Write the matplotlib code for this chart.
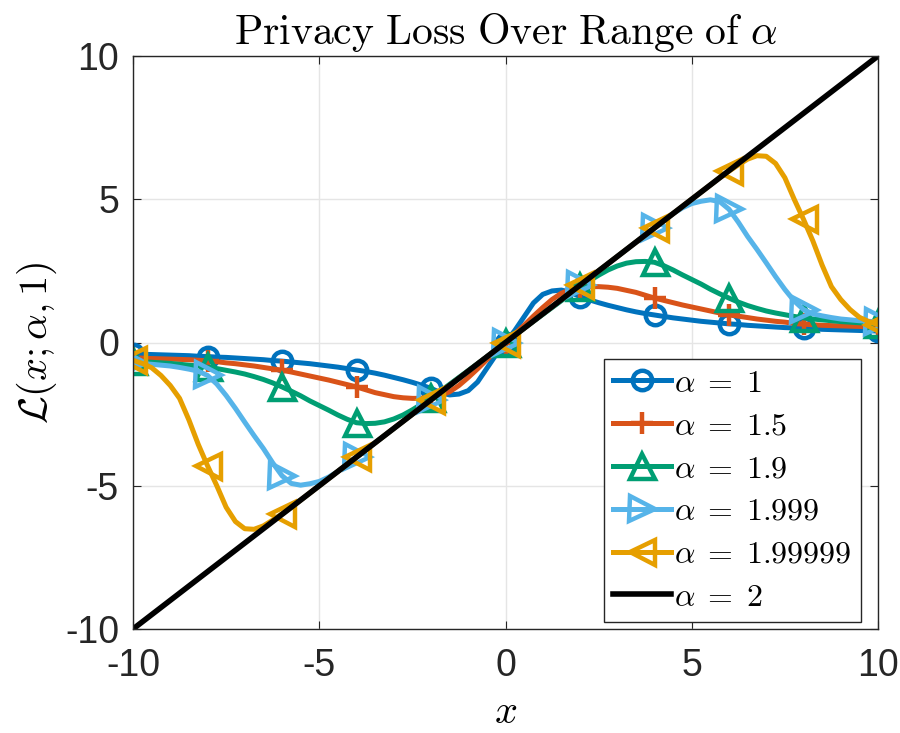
import numpy as np
import matplotlib
matplotlib.use("Agg")
import matplotlib.pyplot as plt

plt.rcParams["mathtext.fontset"] = "cm"
plt.rcParams["font.family"] = ["Liberation Sans", "DejaVu Sans"]
plt.rcParams["axes.unicode_minus"] = False

# privacy loss sampled on x = -10 .. 10 in steps of 0.25
x = np.linspace(-10, 10, 81)

loss_a1 = [
    -0.4, -0.41, -0.42, -0.43, -0.44, -0.45, -0.46, -0.48, -0.49, -0.51,
    -0.52, -0.54, -0.56, -0.58, -0.6, -0.63, -0.65, -0.68, -0.71, -0.74,
    -0.78, -0.82, -0.86, -0.91, -0.96, -1.01, -1.07, -1.14, -1.22, -1.3,
    -1.39, -1.49, -1.6, -1.75, -1.83, -1.8, -1.68, -1.38, -0.9, -0.42,
    0,
    0.42, 0.9, 1.38, 1.68, 1.8, 1.83, 1.75, 1.6, 1.49, 1.39,
    1.3, 1.22, 1.14, 1.07, 1.01, 0.96, 0.91, 0.86, 0.82, 0.78,
    0.74, 0.71, 0.68, 0.65, 0.63, 0.6, 0.58, 0.56, 0.54, 0.52,
    0.51, 0.49, 0.48, 0.46, 0.45, 0.44, 0.43, 0.42, 0.41, 0.4,
]

loss_a15 = [
    -0.54, -0.55, -0.56, -0.57, -0.58, -0.59, -0.6, -0.62, -0.64, -0.67,
    -0.71, -0.74, -0.78, -0.82, -0.87, -0.92, -0.97, -1.03, -1.1, -1.17,
    -1.24, -1.31, -1.39, -1.47, -1.55, -1.65, -1.75, -1.82, -1.89, -1.93,
    -1.95, -1.95, -1.92, -1.85, -1.72, -1.5, -1.22, -0.92, -0.6, -0.3,
    0,
    0.3, 0.6, 0.92, 1.22, 1.5, 1.72, 1.85, 1.92, 1.95, 1.95,
    1.93, 1.89, 1.82, 1.75, 1.65, 1.55, 1.47, 1.39, 1.31, 1.24,
    1.17, 1.1, 1.03, 0.97, 0.92, 0.87, 0.82, 0.78, 0.74, 0.71,
    0.67, 0.64, 0.62, 0.6, 0.59, 0.58, 0.57, 0.56, 0.55, 0.54,
]

loss_a19 = [
    -0.65, -0.67, -0.69, -0.71, -0.73, -0.76, -0.79, -0.82, -0.86, -0.91,
    -0.97, -1.03, -1.1, -1.19, -1.29, -1.41, -1.55, -1.7, -1.86, -2.04,
    -2.2, -2.36, -2.53, -2.68, -2.8, -2.83, -2.82, -2.77, -2.67, -2.53,
    -2.35, -2.15, -1.93, -1.7, -1.46, -1.22, -0.98, -0.74, -0.5, -0.25,
    0,
    0.25, 0.5, 0.74, 0.98, 1.22, 1.46, 1.7, 1.93, 2.15, 2.35,
    2.53, 2.67, 2.77, 2.82, 2.83, 2.8, 2.68, 2.53, 2.36, 2.2,
    2.04, 1.86, 1.7, 1.55, 1.41, 1.29, 1.19, 1.1, 1.03, 0.97,
    0.91, 0.86, 0.82, 0.79, 0.76, 0.73, 0.71, 0.69, 0.67, 0.65,
]

loss_a1999 = [
    -0.72, -0.74, -0.76, -0.79, -0.82, -0.87, -0.93, -1.0, -1.15, -1.45,
    -1.85, -2.3, -2.78, -3.25, -3.7, -4.2, -4.65, -4.92, -4.98, -4.93,
    -4.85, -4.7, -4.5, -4.25, -4.0, -3.75, -3.5, -3.25, -3.0, -2.75,
    -2.5, -2.25, -2.0, -1.75, -1.5, -1.25, -1.0, -0.75, -0.5, -0.25,
    0,
    0.25, 0.5, 0.75, 1.0, 1.25, 1.5, 1.75, 2.0, 2.25, 2.5,
    2.75, 3.0, 3.25, 3.5, 3.75, 4.0, 4.25, 4.5, 4.7, 4.85,
    4.93, 4.98, 4.92, 4.65, 4.2, 3.7, 3.25, 2.78, 2.3, 1.85,
    1.45, 1.15, 1.0, 0.93, 0.87, 0.82, 0.79, 0.76, 0.74, 0.72,
]

loss_a199999 = [
    -0.62, -0.73, -0.88, -1.15, -1.5, -1.95, -2.7, -3.55, -4.3, -5.0,
    -5.75, -6.25, -6.5, -6.52, -6.4, -6.2, -5.98, -5.75, -5.5, -5.25,
    -5.0, -4.75, -4.5, -4.25, -4.0, -3.75, -3.5, -3.25, -3.0, -2.75,
    -2.5, -2.25, -2.0, -1.75, -1.5, -1.25, -1.0, -0.75, -0.5, -0.25,
    0,
    0.25, 0.5, 0.75, 1.0, 1.25, 1.5, 1.75, 2.0, 2.25, 2.5,
    2.75, 3.0, 3.25, 3.5, 3.75, 4.0, 4.25, 4.5, 4.75, 5.0,
    5.25, 5.5, 5.75, 5.98, 6.2, 6.4, 6.52, 6.5, 6.25, 5.75,
    5.0, 4.3, 3.55, 2.7, 1.95, 1.5, 1.15, 0.88, 0.73, 0.62,
]

# Gaussian case is a straight line
x_gauss = [-10, 10]
loss_a2 = [-10, 10]

series = [
    (loss_a1, r"$\alpha\;=\;1$", "#0072BD", "o", 14),
    (loss_a15, r"$\alpha\;=\;1.5$", "#D95319", "+", 16),
    (loss_a19, r"$\alpha\;=\;1.9$", "#009E73", "^", 18),
    (loss_a1999, r"$\alpha\;=\;1.999$", "#56B4E9", ">", 18),
    (loss_a199999, r"$\alpha\;=\;1.99999$", "#E69F00", "<", 18),
]

fig = plt.figure(figsize=(9, 7.33), dpi=100)
ax = fig.add_axes([133 / 900, 1 - 629 / 733, 745 / 900, 573 / 733])

for y, lab, col, mk, size in series:
    ax.plot(x, y, color=col, lw=3.6, marker=mk, markevery=8, ms=size,
            mew=3.2, mfc="none", mec=col, label=lab)
ax.plot(x_gauss, loss_a2, color="black", lw=4, label=r"$\alpha\;=\;2$")

ax.set_xlim(-10, 10)
ax.set_ylim(-10, 10)
ax.set_xticks([-10, -5, 0, 5, 10])
ax.set_yticks([-10, -5, 0, 5, 10])
ax.grid(True, color="#e5e5e5", lw=1)
ax.set_axisbelow(True)
ax.tick_params(direction="in", top=True, right=True, length=6,
               labelsize=27, colors="#262626")
ax.tick_params(axis="x", pad=14)
ax.tick_params(axis="y", pad=10)
for s in ax.spines.values():
    s.set_color("#262626")
    s.set_linewidth(1)

ax.set_title(r"$\mathrm{Privacy\ Loss\ Over\ Range\ of\ }\alpha$",
             fontsize=30, pad=9)
ax.set_xlabel(r"$x$", fontsize=29, labelpad=6)
ax.set_ylabel(r"$\mathcal{L}(x;\alpha,1)$", fontsize=29, labelpad=4)

leg = ax.legend(loc="lower right", bbox_to_anchor=(0.977, 0.012),
                borderaxespad=0, fontsize=23, handlelength=1.8,
                handletextpad=0.1, labelspacing=0.4, borderpad=0.3,
                fancybox=False, framealpha=1, edgecolor="#262626")
leg.get_frame().set_linewidth(1)

fig.savefig("out.png", dpi=100)
